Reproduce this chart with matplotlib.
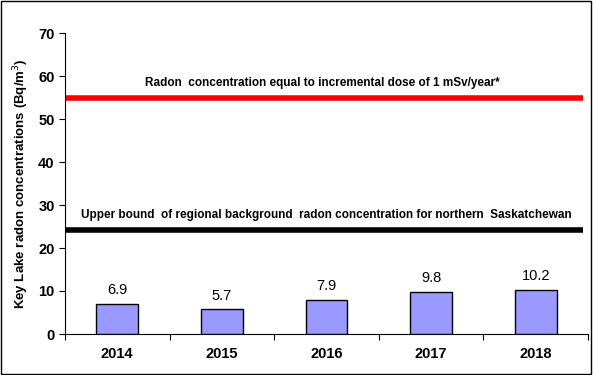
import matplotlib.pyplot as plt
from matplotlib.patches import Rectangle

plt.rcParams['font.family'] = ['Liberation Sans', 'DejaVu Sans']

# data
years = ['2014', '2015', '2016', '2017', '2018']
radon = [6.9, 5.7, 7.9, 9.8, 10.2]
dose_limit = 55
background = 24.3

fig = plt.figure(figsize=(5.93, 3.75), dpi=100)
ax = fig.add_axes([65/593, 1-334/375, (588-65)/593, (334-33)/375])

x = list(range(len(years)))
ax.bar(x, radon, width=0.4, color='#9999FF', edgecolor='black', linewidth=1, zorder=3)
for xi, v in zip(x, radon):
    ax.text(xi, v + 1.6, str(v), ha='center', va='bottom', fontsize=10.5)

# reference lines
ax.plot([-0.5, 4.45], [dose_limit, dose_limit], color='#FF0000', linewidth=4, solid_capstyle='butt')
ax.plot([-0.5, 4.45], [background, background], color='black', linewidth=4, solid_capstyle='butt')
ax.text(1.96, dose_limit + 1.9, 'Radon  concentration equal to incremental dose of 1 mSv/year*',
        ha='center', va='bottom', fontsize=8.5, fontweight='bold')
ax.text(2.0, background + 2.0, 'Upper bound  of regional background  radon concentration for northern  Saskatchewan',
        ha='center', va='bottom', fontsize=8.5, fontweight='bold')

ax.set_xlim(-0.5, 4.5)
ax.set_ylim(0, 70)
ax.set_yticks(range(0, 71, 10))
ax.set_xticks([i - 0.5 for i in range(6)], minor=False)
ax.set_xticklabels([])
ax.set_xticks(x, minor=True)
ax.set_xticklabels(years, minor=True, fontsize=10.5, fontweight='bold')
ax.tick_params(axis='x', which='minor', length=0, pad=9)
ax.tick_params(axis='x', which='major', length=4, direction='out')
ax.tick_params(axis='y', length=4, direction='out', labelsize=10.5)
for lab in ax.get_yticklabels():
    lab.set_fontweight('bold')

ax.spines['top'].set_visible(False)
ax.spines['right'].set_visible(False)
ax.set_ylabel('Key Lake radon concentrations (Bq/m$^3$)', fontsize=9.5, fontweight='bold', labelpad=5)

fig.patches.append(Rectangle((0.002, 0.003), 0.995, 0.994, transform=fig.transFigure,
                             fill=False, edgecolor='black', linewidth=1))

fig.savefig('out.png', dpi=100)
